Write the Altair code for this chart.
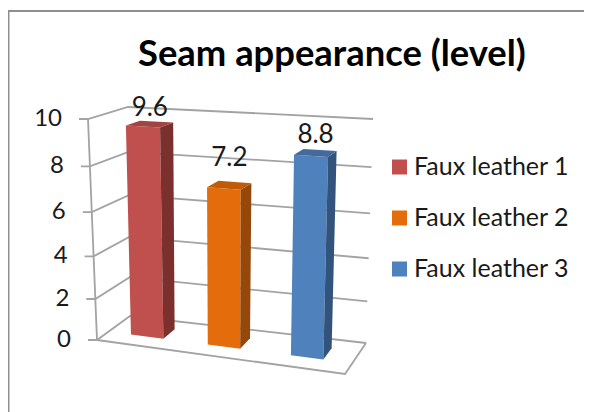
import altair as alt
import pandas as pd

# Chart values
series = ["Faux leather 1", "Faux leather 2", "Faux leather 3"]
values = [9.6, 7.2, 8.8]
ticks = [0, 2, 4, 6, 8, 10]
title = "Seam appearance (level)"

front_colors = ["#C0504D", "#E46C0A", "#4F81BD"]
side_colors = ["#7B302E", "#95480A", "#32547C"]
top_colors = ["#A24442", "#C25B08", "#43699D"]

# 3D box of the plot, in page pixels: corners at value 0 and at value 10
FL0, FR0, BL0, BR0 = (97, 340), (345, 374), (130, 316), (366, 343)
FL1, FR1, BL1, BR1 = (88, 119), (352, 133.5), (128, 107), (373, 119)
BAR_U = [0.092, 0.407, 0.748]   # bar left edge along the category axis
BAR_W = 0.133
BAR_D = (0.35, 0.72)            # bar front / back in depth
LABEL_DY = [-16, -27, -18]
W, H = 576, 404
FONT = "Lato"


def bil(i):
    """Vega expression: perspective-box projection of datum.u, datum.d, datum.v."""
    def corner(a, b, c, d):
        return (f"((1-datum.d)*((1-datum.u)*{a[i]}+datum.u*{b[i]})"
                f"+datum.d*((1-datum.u)*{c[i]}+datum.u*{d[i]}))")
    vv = "((datum.v-0.009*datum.v*(10-datum.v))/10)"
    return (f"(1-{vv})*{corner(FL0, FR0, BL0, BR0)}+{vv}*{corner(FL1, FR1, BL1, BR1)}")


def project(chart):
    return chart.transform_calculate(px=bil(0), py=bil(1))


X = alt.X("px:Q", scale=alt.Scale(domain=[8, 8 + W], range=[0, W]), axis=None)
Y = alt.Y("py:Q", scale=alt.Scale(domain=[8, 8 + H], range=[0, H]), axis=None)

# wall grid lines, each with its tick stub, and the floor
grid_rows = []
for t in ticks:
    pts = [(0, 0, -9), (0, 0, 0), (0, 1, 0), (1, 1, 0)]
    for k, (u, d, off) in enumerate(pts):
        grid_rows.append(dict(id=f"g{t}", k=k, u=u, d=d, v=t, off=off))
for k, (u, d) in enumerate([(0, 0), (1, 0), (1, 1)]):
    grid_rows.append(dict(id="floor", k=k, u=u, d=d, v=0, off=0))
for k, v in enumerate([0, 10]):
    grid_rows.append(dict(id="wall", k=k, u=0, d=0, v=v, off=0))

grid = (
    project(alt.Chart(pd.DataFrame(grid_rows)))
    .transform_calculate(gx="datum.px+datum.off")
    .mark_line(color="#a3a3a3", strokeWidth=1.8)
    .encode(
        x=alt.X("gx:Q", scale=alt.Scale(domain=[8, 8 + W], range=[0, W]), axis=None),
        y=Y, detail="id:N", order="k:Q",
    )
)

# bar faces
face_rows = []
for s, val, u0 in zip(series, values, BAR_U):
    u1 = u0 + BAR_W
    d0, d1 = BAR_D
    faces = {
        s: [(u0, d0, 0), (u1, d0, 0), (u1, d0, val), (u0, d0, val)],
        s + " side": [(u1, d0, 0), (u1, d1, 0), (u1, d1, val), (u1, d0, val)],
        s + " top": [(u0, d0, val), (u1, d0, val), (u1, d1, val), (u0, d1, val)],
    }
    for name, verts in faces.items():
        for k, (u, d, v) in enumerate(verts):
            face_rows.append(dict(face=name, k=k, u=u, d=d, v=v))

domain = series + [s + " side" for s in series] + [s + " top" for s in series]
crange = front_colors + side_colors + top_colors

bars = (
    project(alt.Chart(pd.DataFrame(face_rows)))
    .mark_line(strokeOpacity=0)
    .encode(
        x=X, y=Y, order="k:Q", detail="face:N",
        fill=alt.Fill(
            "face:N",
            scale=alt.Scale(domain=domain, range=crange),
            legend=alt.Legend(
                values=series, title=None, orient="none",
                legendX=379, legendY=145, symbolType="square", symbolSize=225,
                symbolStrokeWidth=0, symbolOpacity=1, labelFont=FONT, labelFontSize=25,
                labelColor="#1a1a1a", labelLimit=220, labelOffset=2, rowPadding=23,
                clipHeight=28,
            ),
        ),
    )
)

# value labels
labels = (
    project(alt.Chart(pd.DataFrame(dict(
        u=[b + BAR_W / 2 for b in BAR_U], d=[sum(BAR_D) / 2] * 3, v=values,
        dy=LABEL_DY, label=[f"{v:.1f}" for v in values]))))
    .transform_calculate(ly="datum.py+datum.dy")
    .mark_text(font=FONT, fontSize=26, color="#1a1a1a", align="center", baseline="middle")
    .encode(
        x=X,
        y=alt.Y("ly:Q", scale=alt.Scale(domain=[8, 8 + H], range=[0, H]), axis=None),
        text="label:N",
    )
)

# value axis labels
axis_text = (
    project(alt.Chart(pd.DataFrame(dict(
        u=[0] * len(ticks), d=[0] * len(ticks), v=ticks, label=[str(t) for t in ticks]))))
    .transform_calculate(lx="datum.px-26")
    .mark_text(font=FONT, fontSize=24, color="#1a1a1a", align="right", baseline="middle")
    .encode(
        x=alt.X("lx:Q", scale=alt.Scale(domain=[8, 8 + W], range=[0, W]), axis=None),
        y=Y, text="label:N",
    )
)

# chart-area frame (left and top edges only, as cropped in the picture)
frame_top = alt.Chart(pd.DataFrame({"a": [0]})).mark_rule(color="#8f8f8f", strokeWidth=2).encode(
    x=alt.value(0), x2=alt.value(W), y=alt.value(3))
frame_left = alt.Chart(pd.DataFrame({"a": [0]})).mark_rule(color="#8f8f8f", strokeWidth=2).encode(
    x=alt.value(0.5), y=alt.value(3), y2=alt.value(H))

chart = (
    alt.layer(frame_top, frame_left, grid, bars, labels, axis_text)
    .properties(
        width=W, height=H, padding=0, autosize="none",
        title=alt.TitleParams(
            title, font=FONT, fontSize=36.4, fontWeight="bold", color="#000000",
            anchor="start", frame="group", orient="top", dx=130, dy=87, baseline="middle",
        ),
    )
    .configure_view(stroke=None)
)

chart.save("out.html", embed_options={"renderer": "svg", "actions": False})
